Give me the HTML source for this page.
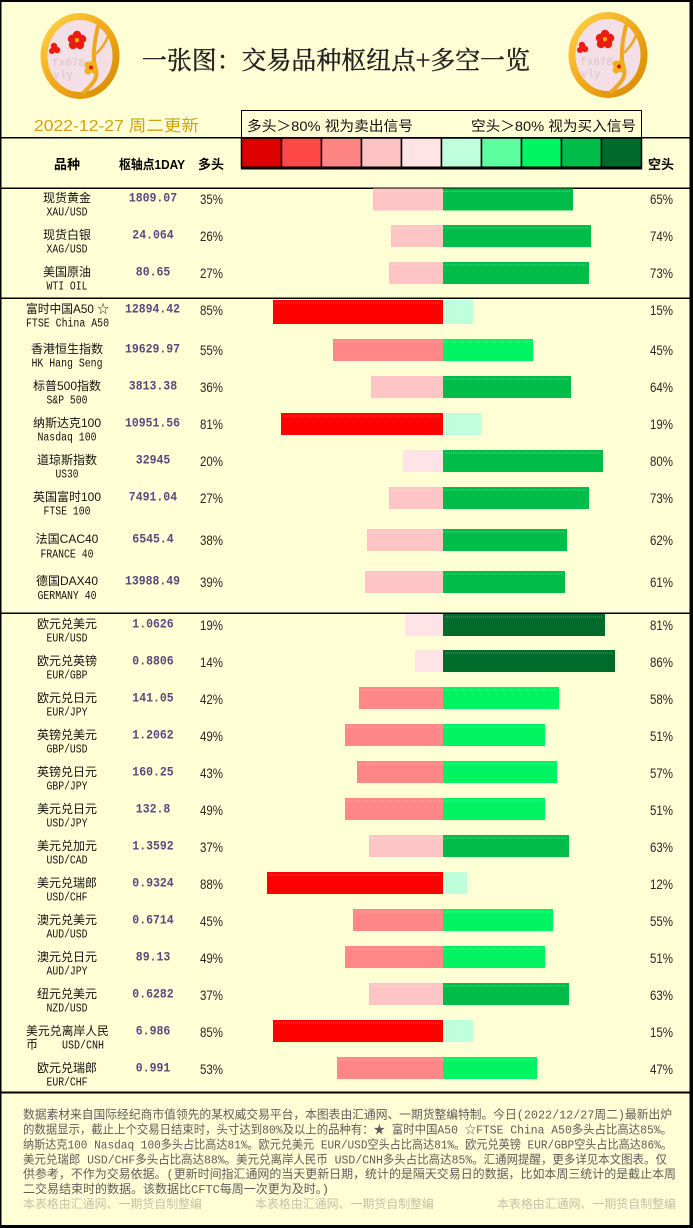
<!DOCTYPE html>
<html><head><meta charset="utf-8"><style>
html,body{margin:0;padding:0;background:#ffffd6;}
svg{display:block}
.nm{font-family:"Liberation Sans","Noto Sans CJK SC",sans-serif;font-size:12px;fill:#111}
.sb{font-family:"Liberation Mono","Noto Sans CJK SC",monospace;font-size:11.5px;fill:#111}
.pv{font-family:"Liberation Mono",monospace;font-size:13px;font-weight:bold;fill:#574a7c}
.pc{font-family:"Liberation Sans",sans-serif;font-size:13.5px;fill:#262626}
.hd{font-family:"Liberation Sans","Noto Sans CJK SC",sans-serif;font-size:13px;font-weight:bold;fill:#000}
.ft{font-family:"Liberation Mono","Noto Sans CJK SC",monospace;font-size:12px;fill:#5c5c5c}
.wm{font-family:"Liberation Sans","Noto Sans CJK SC",sans-serif;font-size:12px;fill:#c2c2a8}
</style></head><body>
<svg width="693" height="1228" viewBox="0 0 693 1228" xmlns="http://www.w3.org/2000/svg">
<defs>
<linearGradient id="gold" x1="0" y1="0" x2="1" y2="1">
<stop offset="0" stop-color="#ffd24a"/><stop offset="0.5" stop-color="#f0a818"/><stop offset="1" stop-color="#d88a00"/>
</linearGradient>
<g id="logo">
<ellipse rx="36" ry="39.5" fill="#f4dfe6" stroke="url(#gold)" stroke-width="7"/>
<path d="M18 -30 C14 -12 12 2 16 14 C19 24 8 32 2 38" fill="none" stroke="#eea820" stroke-width="4"/>
<path d="M16 -2 C22 -8 26 -14 28 -20" fill="none" stroke="#eea820" stroke-width="2.5"/>
<g fill="#ee1c10">
<circle cx="-3" cy="-21" r="4.2"/><circle cx="2" cy="-17" r="4.2"/><circle cx="0" cy="-11" r="4.2"/><circle cx="-7" cy="-11" r="4.2"/><circle cx="-8" cy="-17" r="4.2"/>
<circle cx="-26" cy="-10" r="3.2"/><circle cx="-23" cy="-6" r="3.2"/><circle cx="-28" cy="-5" r="3"/>
</g>
<circle cx="-3" cy="-16" r="2" fill="#f5b800"/>
<g fill="#f0b020"><circle cx="8" cy="9" r="3.5"/><circle cx="13" cy="8" r="3.5"/><circle cx="14" cy="14" r="3.5"/><circle cx="8" cy="15" r="3.5"/></g>
<circle cx="11" cy="11.5" r="2" fill="#e81808"/>
<text x="-28" y="10" font-family="Liberation Mono,monospace" font-size="11" fill="#d8c4cc">fx678</text>
<text x="-27" y="22" font-family="Liberation Mono,monospace" font-size="11" fill="#d8c4cc">yly</text>
</g>
</defs>
<rect width="693" height="1228" fill="#ffffd6"/>

<!-- logos -->
<use href="#logo" transform="translate(80,56)"/>
<use href="#logo" transform="translate(608,55)"/>

<!-- title -->
<text x="142" y="69" font-family="'Noto Serif CJK SC','Noto Sans CJK SC',serif" font-size="25" fill="#222" stroke="#222" stroke-width="0.4" textLength="388" lengthAdjust="spacingAndGlyphs">一张图：交易品种枢纽点+多空一览</text>

<!-- date -->
<text x="34" y="131" font-family="'Liberation Sans','Noto Sans CJK SC',sans-serif" font-size="16" fill="#d6a010" textLength="165" lengthAdjust="spacingAndGlyphs">2022-12-27 周二更新</text>

<!-- legend -->
<rect x="241.5" y="110.5" width="400" height="28" fill="none" stroke="#000" stroke-width="1"/>
<text x="247" y="131" font-family="'Liberation Sans','Noto Sans CJK SC',sans-serif" font-size="14" fill="#111" textLength="166" lengthAdjust="spacingAndGlyphs">多头＞80% 视为卖出信号</text>
<text x="471" y="131" font-family="'Liberation Sans','Noto Sans CJK SC',sans-serif" font-size="14" fill="#111" textLength="165" lengthAdjust="spacingAndGlyphs">空头＞80% 视为买入信号</text>
<g stroke="#000" stroke-width="1.5">
<rect x="241.5" y="138" width="40" height="30" fill="#dd0000"/>
<rect x="281.5" y="138" width="40" height="30" fill="#ff4848"/>
<rect x="321.5" y="138" width="40" height="30" fill="#ff8585"/>
<rect x="361.5" y="138" width="40" height="30" fill="#ffc2c2"/>
<rect x="401.5" y="138" width="40" height="30" fill="#ffe4e6"/>
<rect x="441.5" y="138" width="40" height="30" fill="#c0ffdc"/>
<rect x="481.5" y="138" width="40" height="30" fill="#5cffa0"/>
<rect x="521.5" y="138" width="40" height="30" fill="#00f562"/>
<rect x="561.5" y="138" width="40" height="30" fill="#00bd4a"/>
<rect x="601.5" y="138" width="40" height="30" fill="#006a2c"/>
</g>
<rect x="241" y="166.5" width="401" height="3" fill="#000"/>

<!-- column headers -->
<text class="hd" x="54" y="169">品种</text>
<text class="hd" x="119" y="169" textLength="66" lengthAdjust="spacingAndGlyphs">枢轴点1DAY</text>
<text class="hd" x="198" y="169">多头</text>
<text class="hd" x="648" y="169">空头</text>

<!-- borders / lines -->
<rect x="0" y="0" width="693" height="2" fill="#000"/>
<rect x="0" y="0" width="1.5" height="1228" fill="#000"/>
<rect x="689.5" y="0" width="3.5" height="1228" fill="#000"/>
<rect x="0" y="1225" width="693" height="3" fill="#000"/>
<rect x="0" y="137" width="693" height="1.5" fill="#000"/>
<rect x="0" y="187.5" width="693" height="1.5" fill="#000"/>
<rect x="0" y="297.5" width="693" height="1.5" fill="#000"/>
<rect x="0" y="612.5" width="693" height="1.5" fill="#000"/>
<rect x="0" y="1091.5" width="693" height="2" fill="#000"/>

<!-- ROWS -->
<!-- 1 -->
<text class="nm" x="67" y="202" text-anchor="middle">现货黄金</text>
<text class="sb" x="46.5" y="215.5" textLength="41" lengthAdjust="spacingAndGlyphs">XAU/USD</text>
<text class="pv" x="128.8" y="201.5" textLength="48.3" lengthAdjust="spacingAndGlyphs">1809.07</text>
<text class="pc" x="200" y="204" textLength="23" lengthAdjust="spacingAndGlyphs">35%</text>
<rect x="373" y="188.5" width="70" height="22" fill="#ffc4c4"/>
<rect x="443" y="188.5" width="130" height="22" fill="#00bd4a"/>
<text class="pc" x="650" y="204" textLength="23" lengthAdjust="spacingAndGlyphs">65%</text>
<!-- 2 -->
<text class="nm" x="67" y="239" text-anchor="middle">现货白银</text>
<text class="sb" x="46.5" y="252.5" textLength="41" lengthAdjust="spacingAndGlyphs">XAG/USD</text>
<text class="pv" x="132.3" y="238.5" textLength="41.4" lengthAdjust="spacingAndGlyphs">24.064</text>
<text class="pc" x="200" y="241" textLength="23" lengthAdjust="spacingAndGlyphs">26%</text>
<rect x="391" y="225" width="52" height="22" fill="#ffc4c4"/>
<rect x="443" y="225" width="148" height="22" fill="#00bd4a"/>
<text class="pc" x="650" y="241" textLength="23" lengthAdjust="spacingAndGlyphs">74%</text>
<!-- 3 -->
<text class="nm" x="67" y="276" text-anchor="middle">美国原油</text>
<text class="sb" x="46.5" y="289.5" textLength="41" lengthAdjust="spacingAndGlyphs">WTI OIL</text>
<text class="pv" x="135.8" y="275.5" textLength="34.5" lengthAdjust="spacingAndGlyphs">80.65</text>
<text class="pc" x="200" y="278" textLength="23" lengthAdjust="spacingAndGlyphs">27%</text>
<rect x="389" y="262" width="54" height="22" fill="#ffc4c4"/>
<rect x="443" y="262" width="146" height="22" fill="#00bd4a"/>
<text class="pc" x="650" y="278" textLength="23" lengthAdjust="spacingAndGlyphs">73%</text>
<!-- 4 -->
<text class="nm" x="26" y="313" textLength="83" lengthAdjust="spacingAndGlyphs">富时中国A50 ☆</text>
<text class="sb" x="26" y="326.5" textLength="83" lengthAdjust="spacingAndGlyphs">FTSE China A50</text>
<text class="pv" x="125" y="312.5" textLength="55" lengthAdjust="spacingAndGlyphs">12894.42</text>
<text class="pc" x="200" y="315" textLength="23" lengthAdjust="spacingAndGlyphs">85%</text>
<rect x="273" y="300" width="170" height="24" fill="#ff0000"/>
<rect x="443" y="300" width="30" height="24" fill="#c0ffdc"/>
<text class="pc" x="650" y="315" textLength="23" lengthAdjust="spacingAndGlyphs">15%</text>
<!-- 5 -->
<text class="nm" x="67" y="353" text-anchor="middle">香港恒生指数</text>
<text class="sb" x="31.5" y="366.5" textLength="71" lengthAdjust="spacingAndGlyphs">HK Hang Seng</text>
<text class="pv" x="125" y="352.5" textLength="55" lengthAdjust="spacingAndGlyphs">19629.97</text>
<text class="pc" x="200" y="355" textLength="23" lengthAdjust="spacingAndGlyphs">55%</text>
<rect x="333" y="339" width="110" height="22" fill="#ff8787"/>
<rect x="443" y="339" width="90" height="22" fill="#00f462"/>
<text class="pc" x="650" y="355" textLength="23" lengthAdjust="spacingAndGlyphs">45%</text>
<!-- 6 -->
<text class="nm" x="67" y="390" text-anchor="middle">标普500指数</text>
<text class="sb" x="46.5" y="403.5" textLength="41" lengthAdjust="spacingAndGlyphs">S&amp;P 500</text>
<text class="pv" x="128.8" y="389.5" textLength="48.3" lengthAdjust="spacingAndGlyphs">3813.38</text>
<text class="pc" x="200" y="392" textLength="23" lengthAdjust="spacingAndGlyphs">36%</text>
<rect x="371" y="376" width="72" height="22" fill="#ffc4c4"/>
<rect x="443" y="376" width="128" height="22" fill="#00bd4a"/>
<text class="pc" x="650" y="392" textLength="23" lengthAdjust="spacingAndGlyphs">64%</text>
<!-- 7 -->
<text class="nm" x="67" y="427" text-anchor="middle">纳斯达克100</text>
<text class="sb" x="37.5" y="440.5" textLength="59" lengthAdjust="spacingAndGlyphs">Nasdaq 100</text>
<text class="pv" x="125" y="426.5" textLength="55" lengthAdjust="spacingAndGlyphs">10951.56</text>
<text class="pc" x="200" y="429" textLength="23" lengthAdjust="spacingAndGlyphs">81%</text>
<rect x="281" y="413" width="162" height="22" fill="#ff0000"/>
<rect x="443" y="413" width="38" height="22" fill="#c0ffdc"/>
<text class="pc" x="650" y="429" textLength="23" lengthAdjust="spacingAndGlyphs">19%</text>
<!-- 8 -->
<text class="nm" x="67" y="464" text-anchor="middle">道琼斯指数</text>
<text class="sb" x="55.5" y="477.5" textLength="23" lengthAdjust="spacingAndGlyphs">US30</text>
<text class="pv" x="135.8" y="463.5" textLength="34.5" lengthAdjust="spacingAndGlyphs">32945</text>
<text class="pc" x="200" y="466" textLength="23" lengthAdjust="spacingAndGlyphs">20%</text>
<rect x="403" y="450" width="40" height="22" fill="#ffe3e6"/>
<rect x="443" y="450" width="160" height="22" fill="#00bd4a"/>
<text class="pc" x="650" y="466" textLength="23" lengthAdjust="spacingAndGlyphs">80%</text>
<!-- 9 -->
<text class="nm" x="67" y="501" text-anchor="middle">英国富时100</text>
<text class="sb" x="43.5" y="514.5" textLength="47" lengthAdjust="spacingAndGlyphs">FTSE 100</text>
<text class="pv" x="128.8" y="500.5" textLength="48.3" lengthAdjust="spacingAndGlyphs">7491.04</text>
<text class="pc" x="200" y="503" textLength="23" lengthAdjust="spacingAndGlyphs">27%</text>
<rect x="389" y="487" width="54" height="22" fill="#ffc4c4"/>
<rect x="443" y="487" width="146" height="22" fill="#00bd4a"/>
<text class="pc" x="650" y="503" textLength="23" lengthAdjust="spacingAndGlyphs">73%</text>
<!-- 10 -->
<text class="nm" x="67" y="543" text-anchor="middle">法国CAC40</text>
<text class="sb" x="40.5" y="557.5" textLength="53" lengthAdjust="spacingAndGlyphs">FRANCE 40</text>
<text class="pv" x="132.3" y="542.5" textLength="41.4" lengthAdjust="spacingAndGlyphs">6545.4</text>
<text class="pc" x="200" y="545" textLength="23" lengthAdjust="spacingAndGlyphs">38%</text>
<rect x="367" y="529" width="76" height="22" fill="#ffc4c4"/>
<rect x="443" y="529" width="124" height="22" fill="#00bd4a"/>
<text class="pc" x="650" y="545" textLength="23" lengthAdjust="spacingAndGlyphs">62%</text>
<!-- 11 -->
<text class="nm" x="67" y="585" text-anchor="middle">德国DAX40</text>
<text class="sb" x="37.5" y="599" textLength="59" lengthAdjust="spacingAndGlyphs">GERMANY 40</text>
<text class="pv" x="125" y="584.5" textLength="55" lengthAdjust="spacingAndGlyphs">13988.49</text>
<text class="pc" x="200" y="587" textLength="23" lengthAdjust="spacingAndGlyphs">39%</text>
<rect x="365" y="571" width="78" height="22" fill="#ffc4c4"/>
<rect x="443" y="571" width="122" height="22" fill="#00bd4a"/>
<text class="pc" x="650" y="587" textLength="23" lengthAdjust="spacingAndGlyphs">61%</text>
<!-- 12 -->
<text class="nm" x="67" y="628" text-anchor="middle">欧元兑美元</text>
<text class="sb" x="46.5" y="641.5" textLength="41" lengthAdjust="spacingAndGlyphs">EUR/USD</text>
<text class="pv" x="132.3" y="627.5" textLength="41.4" lengthAdjust="spacingAndGlyphs">1.0626</text>
<text class="pc" x="200" y="630" textLength="23" lengthAdjust="spacingAndGlyphs">19%</text>
<rect x="405" y="614" width="38" height="22" fill="#ffe3e6"/>
<rect x="443" y="614" width="162" height="22" fill="#006b2b"/>
<text class="pc" x="650" y="630" textLength="23" lengthAdjust="spacingAndGlyphs">81%</text>
<!-- 13 -->
<text class="nm" x="67" y="665" text-anchor="middle">欧元兑英镑</text>
<text class="sb" x="46.5" y="678.5" textLength="41" lengthAdjust="spacingAndGlyphs">EUR/GBP</text>
<text class="pv" x="132.3" y="664.5" textLength="41.4" lengthAdjust="spacingAndGlyphs">0.8806</text>
<text class="pc" x="200" y="667" textLength="23" lengthAdjust="spacingAndGlyphs">14%</text>
<rect x="415" y="650" width="28" height="22" fill="#ffe3e6"/>
<rect x="443" y="650" width="172" height="22" fill="#006b2b"/>
<text class="pc" x="650" y="667" textLength="23" lengthAdjust="spacingAndGlyphs">86%</text>
<!-- 14 -->
<text class="nm" x="67" y="702" text-anchor="middle">欧元兑日元</text>
<text class="sb" x="46.5" y="715.5" textLength="41" lengthAdjust="spacingAndGlyphs">EUR/JPY</text>
<text class="pv" x="132.3" y="701.5" textLength="41.4" lengthAdjust="spacingAndGlyphs">141.05</text>
<text class="pc" x="200" y="704" textLength="23" lengthAdjust="spacingAndGlyphs">42%</text>
<rect x="359" y="687" width="84" height="22" fill="#ff8787"/>
<rect x="443" y="687" width="116" height="22" fill="#00f462"/>
<text class="pc" x="650" y="704" textLength="23" lengthAdjust="spacingAndGlyphs">58%</text>
<!-- 15 -->
<text class="nm" x="67" y="739" text-anchor="middle">英镑兑美元</text>
<text class="sb" x="46.5" y="752.5" textLength="41" lengthAdjust="spacingAndGlyphs">GBP/USD</text>
<text class="pv" x="132.3" y="738.5" textLength="41.4" lengthAdjust="spacingAndGlyphs">1.2062</text>
<text class="pc" x="200" y="741" textLength="23" lengthAdjust="spacingAndGlyphs">49%</text>
<rect x="345" y="724" width="98" height="22" fill="#ff8787"/>
<rect x="443" y="724" width="102" height="22" fill="#00f462"/>
<text class="pc" x="650" y="741" textLength="23" lengthAdjust="spacingAndGlyphs">51%</text>
<!-- 16 -->
<text class="nm" x="67" y="776" text-anchor="middle">英镑兑日元</text>
<text class="sb" x="46.5" y="789.5" textLength="41" lengthAdjust="spacingAndGlyphs">GBP/JPY</text>
<text class="pv" x="132.3" y="775.5" textLength="41.4" lengthAdjust="spacingAndGlyphs">160.25</text>
<text class="pc" x="200" y="778" textLength="23" lengthAdjust="spacingAndGlyphs">43%</text>
<rect x="357" y="761" width="86" height="22" fill="#ff8787"/>
<rect x="443" y="761" width="114" height="22" fill="#00f462"/>
<text class="pc" x="650" y="778" textLength="23" lengthAdjust="spacingAndGlyphs">57%</text>
<!-- 17 -->
<text class="nm" x="67" y="813" text-anchor="middle">美元兑日元</text>
<text class="sb" x="46.5" y="826.5" textLength="41" lengthAdjust="spacingAndGlyphs">USD/JPY</text>
<text class="pv" x="135.8" y="812.5" textLength="34.5" lengthAdjust="spacingAndGlyphs">132.8</text>
<text class="pc" x="200" y="815" textLength="23" lengthAdjust="spacingAndGlyphs">49%</text>
<rect x="345" y="798" width="98" height="22" fill="#ff8787"/>
<rect x="443" y="798" width="102" height="22" fill="#00f462"/>
<text class="pc" x="650" y="815" textLength="23" lengthAdjust="spacingAndGlyphs">51%</text>
<!-- 18 -->
<text class="nm" x="67" y="850" text-anchor="middle">美元兑加元</text>
<text class="sb" x="46.5" y="863.5" textLength="41" lengthAdjust="spacingAndGlyphs">USD/CAD</text>
<text class="pv" x="132.3" y="849.5" textLength="41.4" lengthAdjust="spacingAndGlyphs">1.3592</text>
<text class="pc" x="200" y="852" textLength="23" lengthAdjust="spacingAndGlyphs">37%</text>
<rect x="369" y="835" width="74" height="22" fill="#ffc4c4"/>
<rect x="443" y="835" width="126" height="22" fill="#00bd4a"/>
<text class="pc" x="650" y="852" textLength="23" lengthAdjust="spacingAndGlyphs">63%</text>
<!-- 19 -->
<text class="nm" x="67" y="887" text-anchor="middle">美元兑瑞郎</text>
<text class="sb" x="46.5" y="900.5" textLength="41" lengthAdjust="spacingAndGlyphs">USD/CHF</text>
<text class="pv" x="132.3" y="886.5" textLength="41.4" lengthAdjust="spacingAndGlyphs">0.9324</text>
<text class="pc" x="200" y="889" textLength="23" lengthAdjust="spacingAndGlyphs">88%</text>
<rect x="267" y="872" width="176" height="22" fill="#ff0000"/>
<rect x="443" y="872" width="24" height="22" fill="#c0ffdc"/>
<text class="pc" x="650" y="889" textLength="23" lengthAdjust="spacingAndGlyphs">12%</text>
<!-- 20 -->
<text class="nm" x="67" y="924" text-anchor="middle">澳元兑美元</text>
<text class="sb" x="46.5" y="937.5" textLength="41" lengthAdjust="spacingAndGlyphs">AUD/USD</text>
<text class="pv" x="132.3" y="923.5" textLength="41.4" lengthAdjust="spacingAndGlyphs">0.6714</text>
<text class="pc" x="200" y="926" textLength="23" lengthAdjust="spacingAndGlyphs">45%</text>
<rect x="353" y="909" width="90" height="22" fill="#ff8787"/>
<rect x="443" y="909" width="110" height="22" fill="#00f462"/>
<text class="pc" x="650" y="926" textLength="23" lengthAdjust="spacingAndGlyphs">55%</text>
<!-- 21 -->
<text class="nm" x="67" y="961" text-anchor="middle">澳元兑日元</text>
<text class="sb" x="46.5" y="974.5" textLength="41" lengthAdjust="spacingAndGlyphs">AUD/JPY</text>
<text class="pv" x="135.8" y="960.5" textLength="34.5" lengthAdjust="spacingAndGlyphs">89.13</text>
<text class="pc" x="200" y="963" textLength="23" lengthAdjust="spacingAndGlyphs">49%</text>
<rect x="345" y="946" width="98" height="22" fill="#ff8787"/>
<rect x="443" y="946" width="102" height="22" fill="#00f462"/>
<text class="pc" x="650" y="963" textLength="23" lengthAdjust="spacingAndGlyphs">51%</text>
<!-- 22 -->
<text class="nm" x="67" y="998" text-anchor="middle">纽元兑美元</text>
<text class="sb" x="46.5" y="1011.5" textLength="41" lengthAdjust="spacingAndGlyphs">NZD/USD</text>
<text class="pv" x="132.3" y="997.5" textLength="41.4" lengthAdjust="spacingAndGlyphs">0.6282</text>
<text class="pc" x="200" y="1000" textLength="23" lengthAdjust="spacingAndGlyphs">37%</text>
<rect x="369" y="983" width="74" height="22" fill="#ffc4c4"/>
<rect x="443" y="983" width="126" height="22" fill="#00bd4a"/>
<text class="pc" x="650" y="1000" textLength="23" lengthAdjust="spacingAndGlyphs">63%</text>
<!-- 23 -->
<text class="nm" x="26" y="1035" textLength="83" lengthAdjust="spacingAndGlyphs">美元兑离岸人民</text>
<text class="nm" x="26" y="1048.5">币</text>
<text class="sb" x="62" y="1048.5" textLength="42" lengthAdjust="spacingAndGlyphs">USD/CNH</text>
<text class="pv" x="135.8" y="1034.5" textLength="34.5" lengthAdjust="spacingAndGlyphs">6.986</text>
<text class="pc" x="200" y="1037" textLength="23" lengthAdjust="spacingAndGlyphs">85%</text>
<rect x="273" y="1020" width="170" height="22" fill="#ff0000"/>
<rect x="443" y="1020" width="30" height="22" fill="#c0ffdc"/>
<text class="pc" x="650" y="1037" textLength="23" lengthAdjust="spacingAndGlyphs">15%</text>
<!-- 24 -->
<text class="nm" x="67" y="1072" text-anchor="middle">欧元兑瑞郎</text>
<text class="sb" x="46.5" y="1085.5" textLength="41" lengthAdjust="spacingAndGlyphs">EUR/CHF</text>
<text class="pv" x="135.8" y="1071.5" textLength="34.5" lengthAdjust="spacingAndGlyphs">0.991</text>
<text class="pc" x="200" y="1074" textLength="23" lengthAdjust="spacingAndGlyphs">53%</text>
<rect x="337" y="1057" width="106" height="22" fill="#ff8787"/>
<rect x="443" y="1057" width="94" height="22" fill="#00f462"/>
<text class="pc" x="650" y="1074" textLength="23" lengthAdjust="spacingAndGlyphs">47%</text>

<!-- dotted highlight lines on bars -->
<g stroke="#ffffff" stroke-opacity="0.35" stroke-width="1" stroke-dasharray="1 1">
<line x1="375" y1="191.5" x2="571" y2="191.5"/>
<line x1="393" y1="228" x2="589" y2="228"/>
<line x1="391" y1="265" x2="587" y2="265"/>
<line x1="275" y1="303" x2="441" y2="303"/>
<line x1="335" y1="342" x2="531" y2="342"/>
<line x1="373" y1="379" x2="569" y2="379"/>
<line x1="283" y1="416" x2="441" y2="416"/>
<line x1="445" y1="453" x2="601" y2="453"/>
<line x1="391" y1="490" x2="587" y2="490"/>
<line x1="369" y1="532" x2="565" y2="532"/>
<line x1="367" y1="574" x2="563" y2="574"/>
<line x1="445" y1="617" x2="603" y2="617"/>
<line x1="445" y1="653" x2="613" y2="653"/>
<line x1="361" y1="690" x2="557" y2="690"/>
<line x1="347" y1="727" x2="543" y2="727"/>
<line x1="359" y1="764" x2="555" y2="764"/>
<line x1="347" y1="801" x2="543" y2="801"/>
<line x1="371" y1="838" x2="567" y2="838"/>
<line x1="269" y1="875" x2="441" y2="875"/>
<line x1="355" y1="912" x2="551" y2="912"/>
<line x1="347" y1="949" x2="543" y2="949"/>
<line x1="371" y1="986" x2="567" y2="986"/>
<line x1="275" y1="1023" x2="441" y2="1023"/>
<line x1="339" y1="1060" x2="535" y2="1060"/>
</g>

<!-- footer -->
<text class="ft" x="23" y="1118.5" textLength="649" lengthAdjust="spacingAndGlyphs">数据素材来自国际经纪商市值领先的某权威交易平台，本图表由汇通网、一期货整编特制。今日(2022/12/27周二)最新出炉</text>
<text class="ft" x="23" y="1133.5" textLength="649" lengthAdjust="spacingAndGlyphs">的数据显示，截止上个交易日结束时，头寸达到80%及以上的品种有：★ 富时中国A50 ☆FTSE China A50多头占比高达85%。</text>
<text class="ft" x="23" y="1148.5" textLength="649" lengthAdjust="spacingAndGlyphs">纳斯达克100 Nasdaq 100多头占比高达81%。欧元兑美元 EUR/USD空头占比高达81%。欧元兑英镑 EUR/GBP空头占比高达86%。</text>
<text class="ft" x="23" y="1163.5" textLength="644" lengthAdjust="spacingAndGlyphs">美元兑瑞郎 USD/CHF多头占比高达88%。美元兑离岸人民币 USD/CNH多头占比高达85%。汇通网提醒，更多详见本文图表。仅</text>
<text class="ft" x="23" y="1178" textLength="653" lengthAdjust="spacingAndGlyphs">供参考，不作为交易依据。(更新时间指汇通网的当天更新日期，统计的是隔天交易日的数据，比如本周三统计的是截止本周</text>
<text class="ft" x="23" y="1193" textLength="306" lengthAdjust="spacingAndGlyphs">二交易结束时的数据。该数据比CFTC每周一次更为及时。)</text>
<text class="wm" x="23" y="1208" textLength="179" lengthAdjust="spacingAndGlyphs">本表格由汇通网、一期货自制整编</text>
<text class="wm" x="255" y="1208" textLength="179" lengthAdjust="spacingAndGlyphs">本表格由汇通网、一期货自制整编</text>
<text class="wm" x="497" y="1208" textLength="179" lengthAdjust="spacingAndGlyphs">本表格由汇通网、一期货自制整编</text>
</svg>
</body></html>
